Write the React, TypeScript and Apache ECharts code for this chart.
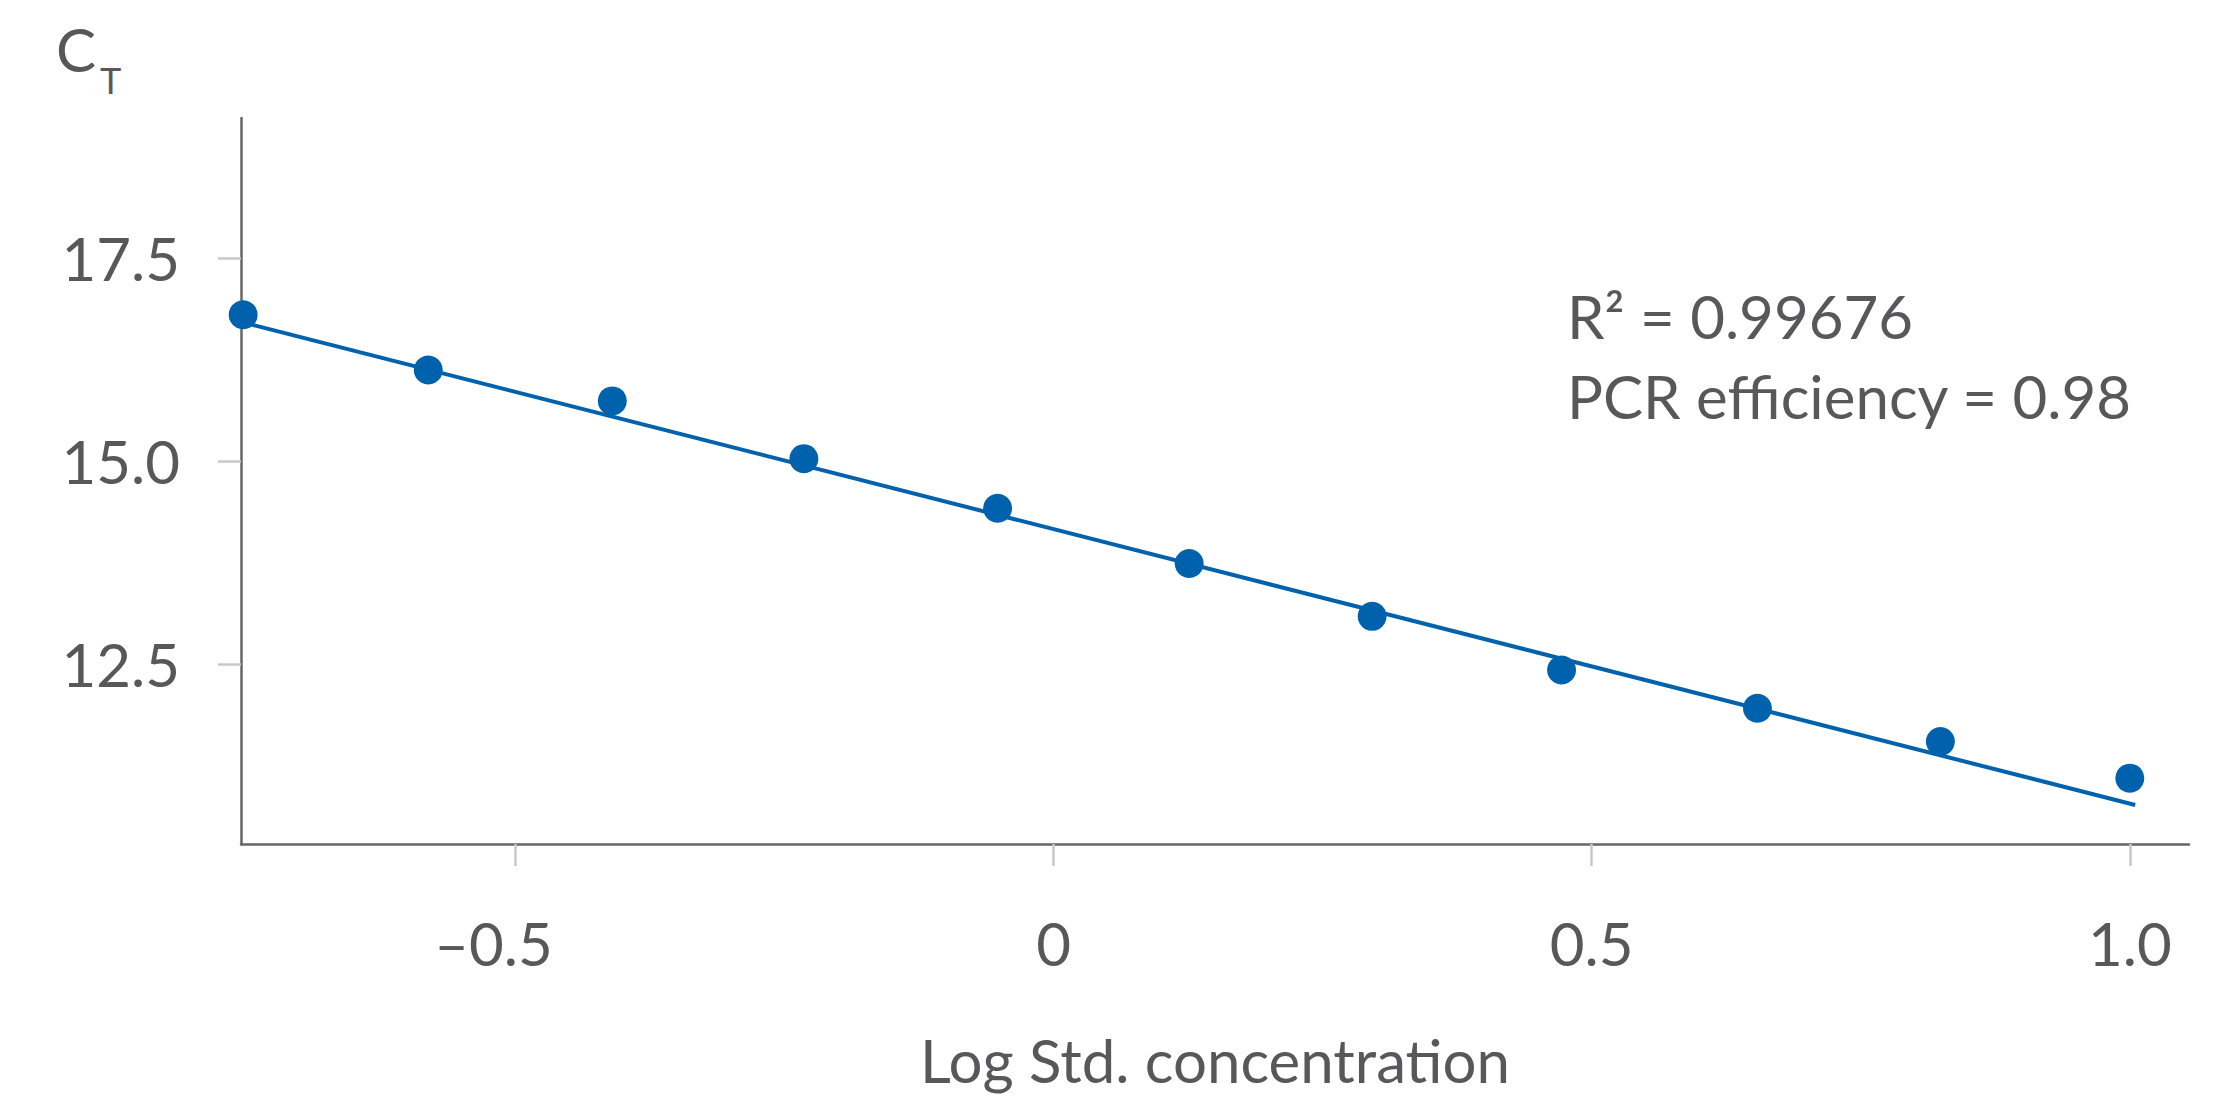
import React, { useEffect, useRef } from "react";
import * as echarts from "echarts";

// Data
const logConc = [-0.753, -0.581, -0.41, -0.232, -0.052, 0.126, 0.296, 0.472, 0.654, 0.824, 1.0];
const ctValues = [16.8, 16.12, 15.74, 15.03, 14.42, 13.74, 13.09, 12.43, 11.96, 11.55, 11.1];
const fitX = [-0.753, 1.005];
const fitY = [16.705, 10.77];
const xTickValues = [-0.5, 0, 0.5, 1.0];
const xTickLabels = ["\u20130.5", "0", "0.5", "1.0"];
const yTickValues = [12.5, 15, 17.5];
const yTickLabels = ["12.5", "15.0", "17.5"];
const annotationLines = ["R\u00B2 = 0.99676", "PCR efficiency = 0.98"];
const xAxisTitle = "Log Std. concentration";
const yAxisTitleMain = "C";
const yAxisTitleSub = "T";

const FONT = "Lato, 'Noto Sans', sans-serif";
const TEXT = "#58585a";
const BLUE = "#0062ad";

function labelFor(values: number[], labels: string[], v: number) {
  for (let i = 0; i < values.length; i++) {
    if (Math.abs(values[i] - v) < 1e-6) return labels[i];
  }
  return "";
}

export default function App() {
  const ref = useRef<HTMLDivElement>(null);
  useEffect(() => {
    if (!ref.current) return;
    const chart = echarts.init(ref.current, null, { renderer: "svg" });
    chart.setOption({
      animation: false,
      backgroundColor: "#ffffff",
      grid: { left: 241, right: 33, top: 118, bottom: 259, containLabel: false },
      xAxis: {
        type: "value",
        min: -0.755,
        max: 1.055,
        name: xAxisTitle,
        nameLocation: "middle",
        nameGap: 186,
        nameTextStyle: { fontFamily: FONT, fontSize: 60, color: TEXT },
        axisLine: { show: true, onZero: false, lineStyle: { color: "#666666", width: 2.5 } },
        axisTick: {
          show: true,
          length: 22,
          customValues: xTickValues,
          lineStyle: { color: "#c8c8c8", width: 2.5 },
        },
        axisLabel: {
          customValues: xTickValues,
          margin: 69,
          fontFamily: FONT,
          fontSize: 60,
          color: TEXT,
          formatter: (v: number) => {
            const s = labelFor(xTickValues, xTickLabels, v);
            return v < 0 ? "{neg|" + s + "}" : s;
          },
          rich: {
            neg: { fontFamily: FONT, fontSize: 60, color: TEXT, padding: [0, 44, 0, 0] },
          },
        },
        splitLine: { show: false },
      },
      yAxis: {
        type: "value",
        min: 10.29,
        max: 19.22,
        axisLine: { show: true, onZero: false, lineStyle: { color: "#666666", width: 2.5 } },
        axisTick: {
          show: true,
          length: 23,
          customValues: yTickValues,
          lineStyle: { color: "#c8c8c8", width: 2.5 },
        },
        axisLabel: {
          customValues: yTickValues,
          margin: 61,
          fontFamily: FONT,
          fontSize: 60,
          color: TEXT,
          formatter: (v: number) => labelFor(yTickValues, yTickLabels, v),
        },
        splitLine: { show: false },
      },
      series: [
        {
          type: "line",
          data: fitX.map((x, i) => [x, fitY[i]]),
          showSymbol: false,
          symbol: "none",
          lineStyle: { color: BLUE, width: 4 },
          z: 2,
        },
        {
          type: "scatter",
          data: logConc.map((x, i) => [x, ctValues[i]]),
          symbol: "circle",
          symbolSize: 29,
          itemStyle: { color: BLUE, opacity: 1 },
          z: 3,
        },
      ],
      graphic: [
        {
          type: "text",
          left: 56,
          top: 19,
          style: { text: yAxisTitleMain, fontFamily: FONT, fontSize: 60, fill: TEXT },
        },
        {
          type: "text",
          left: 100,
          top: 62,
          style: { text: yAxisTitleSub, fontFamily: FONT, fontSize: 36, fill: TEXT },
        },
        {
          type: "text",
          left: 1567,
          top: 286,
          style: { text: annotationLines[0], fontFamily: FONT, fontSize: 60, fill: TEXT },
        },
        {
          type: "text",
          left: 1567,
          top: 366,
          style: { text: annotationLines[1], fontFamily: FONT, fontSize: 60, fill: TEXT },
        },
      ],
    });
    return () => chart.dispose();
  }, []);
  return (
    <div
      ref={ref}
      style={{ position: "fixed", left: 0, top: 0, width: 2222, height: 1103, background: "#fff" }}
    />
  );
}
